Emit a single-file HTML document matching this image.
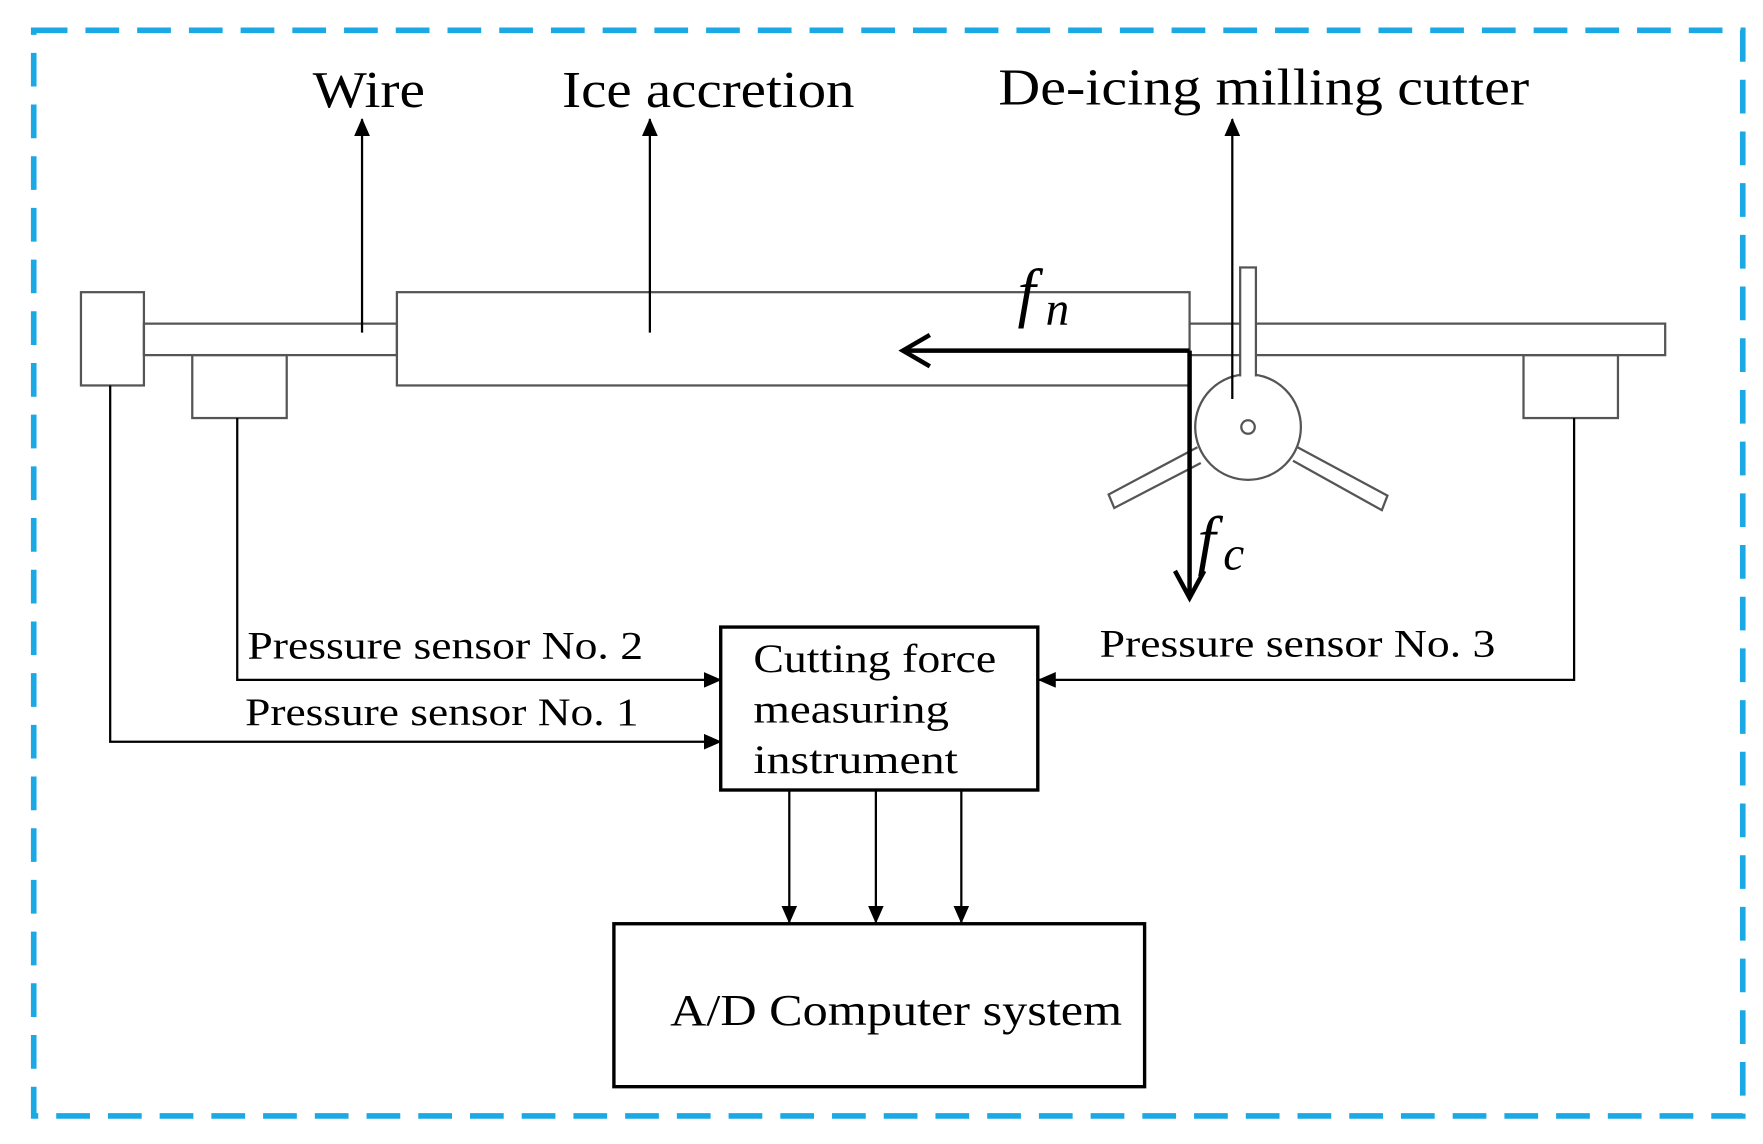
<!DOCTYPE html>
<html><head><meta charset="utf-8"><style>html,body{margin:0;padding:0;background:#fff;}svg{display:block}</style></head>
<body>
<svg width="1763" height="1144" viewBox="0 0 1568 1018" preserveAspectRatio="none" xmlns="http://www.w3.org/2000/svg" font-family="Liberation Serif, serif">
<defs>
<marker id="a" markerWidth="16" markerHeight="14" refX="15" refY="7" orient="auto" markerUnits="userSpaceOnUse" viewBox="0 0 16 14"><path d="M0,0 L16,7 L0,14 z" fill="#000"/></marker>
</defs>
<rect x="0" y="0" width="1568" height="1018" fill="#fff"/>
<rect x="30" y="27" width="1520" height="966" fill="none" stroke="#1ba9e6" stroke-width="5" stroke-dasharray="30,16"/>
<g fill="none" stroke="#555" stroke-width="2">
<rect x="72" y="260" width="56" height="83"/>
<rect x="128" y="288" width="225" height="28"/>
<rect x="171" y="316" width="84" height="56"/>
<rect x="353" y="260" width="705" height="83"/>
<path d="M1058,288 H1481 V316 H1058"/>
<rect x="1355" y="316" width="84" height="56"/>
<path d="M1065,398 L986,440 L991,452 L1068,412" fill="#fff"/>
<path d="M1154,398 L1234,441 L1229,454 L1150,410" fill="#fff"/>
<circle cx="1110" cy="380" r="47" fill="#fff"/>
<rect x="1103" y="238" width="14" height="96" fill="#fff"/>
<path d="M1104,334 H1116" stroke="#fff" stroke-width="3"/>
<circle cx="1110" cy="380" r="6"/>
</g>
<g stroke="#000" stroke-width="2" fill="none">
<line x1="322" y1="296" x2="322" y2="106" marker-end="url(#a)"/>
<line x1="578" y1="296" x2="578" y2="106" marker-end="url(#a)"/>
<line x1="1096" y1="355" x2="1096" y2="106" marker-end="url(#a)"/>
<path d="M211,372 V605 H641" marker-end="url(#a)"/>
<path d="M98,343 V660 H641" marker-end="url(#a)"/>
<path d="M1400,372 V605 H924" marker-end="url(#a)"/>
<line x1="702" y1="703" x2="702" y2="821" marker-end="url(#a)"/>
<line x1="779" y1="703" x2="779" y2="821" marker-end="url(#a)"/>
<line x1="855" y1="703" x2="855" y2="821" marker-end="url(#a)"/>
</g>
<g stroke="#000" stroke-width="4" fill="none">
<path d="M1058,312 H803"/>
<path d="M827,298 L803,312 L827,326"/>
<path d="M1058,312 V532"/>
<path d="M1045,508 L1058,532 L1071,508"/>
</g>
<rect x="641" y="558" width="282" height="145" fill="none" stroke="#000" stroke-width="3"/>
<rect x="546" y="822" width="472" height="145" fill="none" stroke="#000" stroke-width="3"/>
<g fill="#000">
<text x="278" y="95" font-size="46" textLength="100" lengthAdjust="spacingAndGlyphs">Wire</text>
<text x="500" y="95" font-size="46" textLength="260" lengthAdjust="spacingAndGlyphs">Ice accretion</text>
<text x="888" y="93" font-size="46" textLength="472" lengthAdjust="spacingAndGlyphs">De-icing milling cutter</text>
<text x="905" y="280" font-size="58" font-style="italic">f</text>
<text x="930" y="289" font-size="42" font-style="italic">n</text>
<text x="1065" y="500" font-size="58" font-style="italic">f</text>
<text x="1088" y="507" font-size="42" font-style="italic">c</text>
<text x="220" y="586" font-size="35" textLength="352" lengthAdjust="spacingAndGlyphs">Pressure sensor No. 2</text>
<text x="218" y="645" font-size="35" textLength="350" lengthAdjust="spacingAndGlyphs">Pressure sensor No. 1</text>
<text x="978" y="584" font-size="35" textLength="352" lengthAdjust="spacingAndGlyphs">Pressure sensor No. 3</text>
<text x="670" y="598" font-size="36" textLength="216" lengthAdjust="spacingAndGlyphs">Cutting force</text>
<text x="670" y="643" font-size="36" textLength="174" lengthAdjust="spacingAndGlyphs">measuring</text>
<text x="670" y="688" font-size="36" textLength="182" lengthAdjust="spacingAndGlyphs">instrument</text>
<text x="596" y="912" font-size="40" textLength="402" lengthAdjust="spacingAndGlyphs">A/D Computer system</text>
</g>
</svg>
</body></html>
